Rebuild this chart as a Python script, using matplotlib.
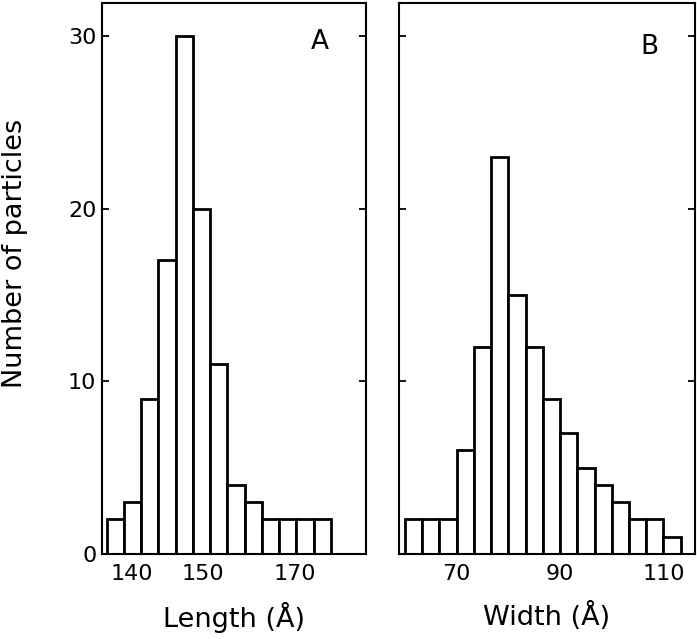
import numpy as np
import matplotlib.pyplot as plt

# histogram counts, bins of 10/3 Angstrom
length_start = 135.0
length_counts = [2, 3, 9, 17, 30, 20, 11, 4, 3, 2, 2, 2, 2]
width_start = 60.0
width_counts = [2, 2, 2, 6, 12, 23, 15, 12, 9, 7, 5, 4, 3, 2, 2, 1]
bin_w = 10 / 3

# tick labels as printed (A labels sit off the linear scale in the original)
length_tick_pos = [139.8, 153.7, 171.4]
length_tick_labels = ["140", "150", "170"]
width_tick_pos = [70, 90, 110]
width_tick_labels = ["70", "90", "110"]
y_ticks = [0, 10, 20, 30]

plt.rcParams['font.family'] = 'DejaVu Sans'

fig = plt.figure(figsize=(6.97, 6.39), dpi=100)
axA = fig.add_axes([0.1463, 0.133, 0.5251 - 0.1463, 0.9953 - 0.133])
axB = fig.add_axes([0.5725, 0.133, 0.9971 - 0.5725, 0.9953 - 0.133])


def draw_hist(ax, start, counts):
    edges = start + bin_w * np.arange(len(counts))
    ax.bar(edges, counts, width=bin_w, align='edge', facecolor='white',
           edgecolor='black', linewidth=2.0)


draw_hist(axA, length_start, length_counts)
draw_hist(axB, width_start, width_counts)

axA.set_xlim(134.1, 185.15)
axB.set_xlim(58.84, 116.1)

for ax in (axA, axB):
    ax.set_ylim(0, 31.9)
    ax.set_yticks(y_ticks)
    ax.tick_params(axis='y', direction='in', length=5, width=1.3,
                   left=True, right=True, labelsize=16, pad=4)
    ax.tick_params(axis='x', length=0, labelsize=16, pad=7)
    for s in ax.spines.values():
        s.set_linewidth(1.5)

axA.set_xticks(length_tick_pos)
axA.set_xticklabels(length_tick_labels)
axB.set_xticks(width_tick_pos)
axB.set_xticklabels(width_tick_labels)
axB.tick_params(axis='y', labelleft=False)

axA.set_xlabel("Length (Å)", fontsize=19.5, labelpad=13)
axB.set_xlabel("Width (Å)", fontsize=19.5, labelpad=13)
axA.set_ylabel("Number of particles", fontsize=19.5)
axA.yaxis.set_label_coords(-0.28, 0.546)

axA.text(0.826, 0.929, "A", transform=axA.transAxes, fontsize=19,
         ha='center', va='center')
axB.text(0.845, 0.920, "B", transform=axB.transAxes, fontsize=19,
         ha='center', va='center')

fig.savefig("out.png", dpi=100)
